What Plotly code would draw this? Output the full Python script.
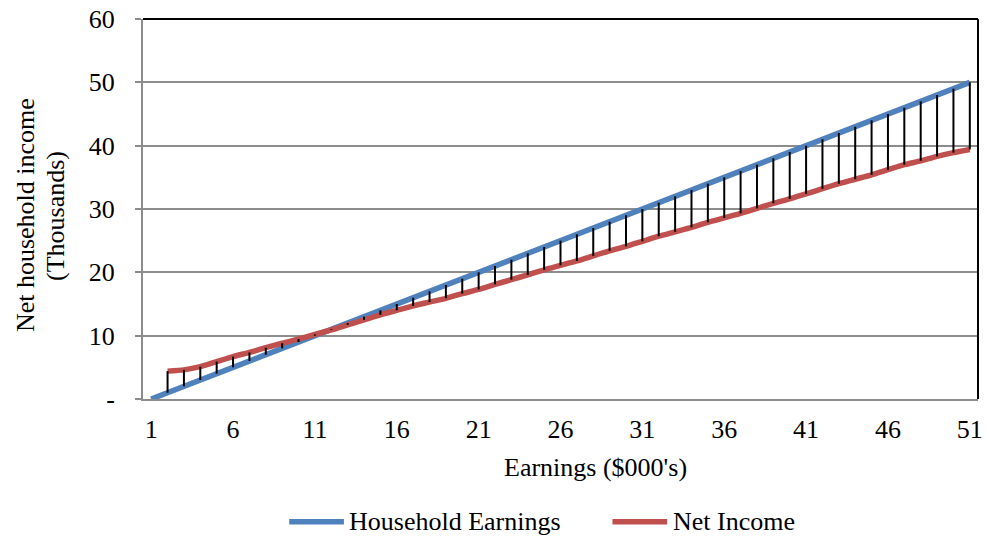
import plotly.graph_objects as go

# ---------------- data ----------------
categories = list(range(1, 52))
household_earnings = [float(c - 1) for c in categories]  # 0 .. 50
net_income = [None,
              4.4, 4.6, 5.1, 5.9, 6.7, 7.35, 8.1, 8.8, 9.45,
              10.2, 10.9, 11.7, 12.5, 13.3, 14.0, 14.7, 15.3, 15.9, 16.65,
              17.3, 18.1, 18.85, 19.6, 20.4, 21.1, 21.8, 22.6, 23.4, 24.1,
              24.9, 25.7, 26.4, 27.1, 27.9, 28.6, 29.3, 30.1, 30.9, 31.6,
              32.4, 33.2, 34.0, 34.7, 35.4, 36.2, 37.0, 37.6, 38.3, 38.9,
              39.4]
series_names = ["Household Earnings", "Net Income"]
x_tickvals = [1, 6, 11, 16, 21, 26, 31, 36, 41, 46, 51]
y_tickvals = [0, 10, 20, 30, 40, 50, 60]
y_ticktext = ["-", "10", "20", "30", "40", "50", "60"]
x_title = "Earnings ($000's)"
y_title_lines = ["Net household income", "(Thousands)"]

# ---------------- style ----------------
W, H = 988, 537
ML, MR, MT, MB = 143, 5.5, 18, 138
BLUE = "#4F81BD"
RED = "#C0504D"
GRID = "#8C8C8C"
FONT = "Liberation Serif, Times New Roman, serif"
FS = 26
LW = 5.5

def px_x(p):
    return (p - ML) / (W - ML - MR)

def px_y(p):
    return (H - MB - p) / (H - MT - MB)

# drop (high-low) lines built from the two series
drop_x, drop_y = [], []
for c, e, n in zip(categories, household_earnings, net_income):
    if n is None:
        continue
    drop_x += [c, c, None]
    drop_y += [e, n, None]

fig = go.Figure()
fig.add_trace(go.Scatter(x=categories, y=household_earnings, mode="lines",
                         name=series_names[0],
                         line=dict(color=BLUE, width=LW), showlegend=False))
fig.add_trace(go.Scatter(x=categories, y=net_income, mode="lines",
                         name=series_names[1], connectgaps=False,
                         line=dict(color=RED, width=LW, shape="spline", smoothing=0.6),
                         showlegend=False))
fig.add_trace(go.Scatter(x=drop_x, y=drop_y, mode="lines",
                         line=dict(color="black", width=2),
                         hoverinfo="skip", showlegend=False))

fig.update_layout(
    width=W, height=H,
    margin=dict(l=ML, r=MR, t=MT, b=MB, pad=0),
    paper_bgcolor="white", plot_bgcolor="white",
    font=dict(family=FONT, size=FS, color="black"),
    showlegend=False,
)
fig.update_xaxes(
    range=[0.5, 51.5], tickmode="array", tickvals=x_tickvals,
    ticktext=[str(v) for v in x_tickvals],
    showgrid=False, zeroline=False,
    showline=True, linecolor=GRID, linewidth=2,
    ticks="", ticklabelstandoff=6, ticklabeloverflow="allow",
    tickfont=dict(family=FONT, size=FS, color="black"),
)
fig.update_yaxes(
    range=[0, 60], tickmode="array", tickvals=y_tickvals, ticktext=y_ticktext,
    showgrid=True, gridcolor=GRID, gridwidth=2, zeroline=False,
    showline=True, linecolor=GRID, linewidth=2,
    ticks="outside", ticklen=6, tickcolor=GRID, tickwidth=2,
    ticklabelstandoff=15,
    tickfont=dict(family=FONT, size=FS, color="black"),
)

shapes = [
    # plot area border (top and right)
    dict(type="line", xref="paper", yref="paper", x0=0, x1=1, y0=1, y1=1,
         line=dict(color="black", width=2), layer="above"),
    dict(type="line", xref="paper", yref="paper", x0=1, x1=1, y0=0, y1=1,
         line=dict(color="black", width=2), layer="above"),
    # legend samples
    dict(type="line", xref="paper", yref="paper", x0=px_x(290), x1=px_x(345),
         y0=px_y(522), y1=px_y(522), line=dict(color=BLUE, width=LW)),
    dict(type="line", xref="paper", yref="paper", x0=px_x(615), x1=px_x(670),
         y0=px_y(522), y1=px_y(522), line=dict(color=RED, width=LW)),
]
annotations = [
    dict(text=series_names[0], xref="paper", yref="paper", x=px_x(348), y=px_y(522),
         xanchor="left", yanchor="middle", showarrow=False),
    dict(text=series_names[1], xref="paper", yref="paper", x=px_x(674), y=px_y(522),
         xanchor="left", yanchor="middle", showarrow=False),
    dict(text=x_title, xref="paper", yref="paper", x=px_x(598), y=px_y(468),
         xanchor="center", yanchor="middle", showarrow=False),
    dict(text=y_title_lines[0], xref="paper", yref="paper", x=px_x(25), y=px_y(215),
         xanchor="center", yanchor="middle", textangle=-90, showarrow=False),
    dict(text=y_title_lines[1], xref="paper", yref="paper", x=px_x(55), y=px_y(215),
         xanchor="center", yanchor="middle", textangle=-90, showarrow=False),
]
fig.update_layout(shapes=shapes, annotations=annotations)

fig.write_html("out.html",
               config={"displayModeBar": False},
               post_script="document.body.style.margin='0';document.body.style.overflow='hidden';")
